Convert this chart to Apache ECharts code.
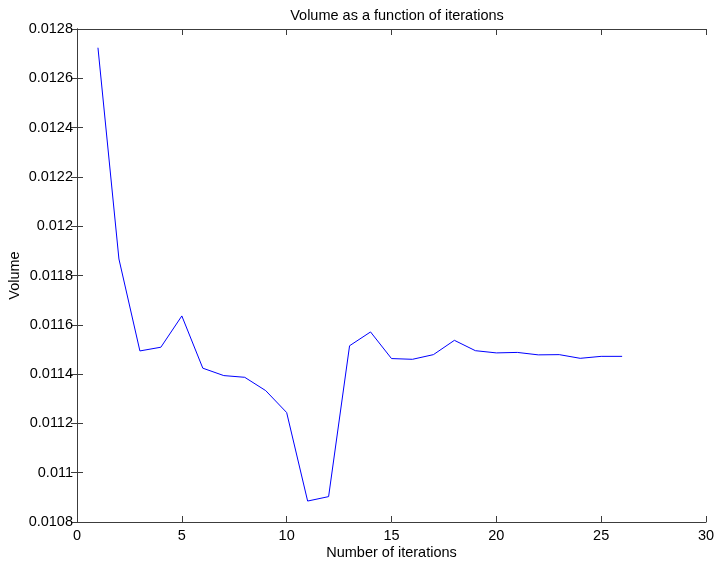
<!DOCTYPE html>
<html>
<head>
<meta charset="utf-8">
<script src="https://cdn.jsdelivr.net/npm/echarts@6/dist/echarts.min.js"></script>
<style>
  html, body { margin: 0; padding: 0; background: #fff; }
  #chart { width: 714px; height: 566px; }
</style>
</head>
<body>
<div id="chart"></div>
<script>
  // iterations and volume
  var iterations = [1, 2, 3, 4, 5, 6, 7, 8, 9, 10, 11, 12, 13, 14, 15, 16, 17, 18, 19, 20, 21, 22, 23, 24, 25, 26]
  var volume = [0.012724, 0.011867, 0.011494, 0.011509, 0.011636, 0.011424, 0.011394, 0.011387, 0.011333, 0.011244,
    0.010885, 0.010903, 0.011515, 0.011571, 0.011463, 0.01146, 0.011479, 0.011537, 0.011495, 0.011486,
    0.011488, 0.011478, 0.011479, 0.011464, 0.011472, 0.011472]

  var points = []
  for (var i = 0; i < iterations.length; i++) {
    points.push([iterations[i], volume[i]])
  }

  var myChart = echarts.init(document.getElementById('chart'));
  var font = 'Liberation Sans, Arial, sans-serif'
  var fs = 14.5
  var axisLine = { show: true, lineStyle: { color: '#3c3c3c', width: 1 } }
  var tick = { show: true, inside: true, length: 6, lineStyle: { color: '#3c3c3c' } }

  var option = {
    animation: false,
    backgroundColor: '#fff',
    title: {
      text: 'Volume as a function of iterations',
      left: 392,
      textAlign: 'center',
      top: 3,
      textStyle: { fontFamily: font, fontSize: fs, fontWeight: 'normal', color: '#000' }
    },
    grid: { left: 77, right: 8, top: 29, bottom: 44, containLabel: false, outerBoundsMode: 'none' },
    xAxis: [{
      type: 'value',
      min: 0, max: 30, interval: 5,
      name: 'Number of iterations',
      nameLocation: 'middle',
      nameGap: 23,
      nameMoveOverlap: false,
      nameTextStyle: { fontFamily: font, fontSize: fs, color: '#000' },
      axisLine: axisLine,
      axisTick: tick,
      splitLine: { show: false },
      axisLabel: { fontFamily: font, fontSize: fs, color: '#000', margin: 6 }
    }, {
      type: 'value',
      position: 'top',
      min: 0, max: 30, interval: 5,
      axisLine: axisLine,
      axisTick: tick,
      splitLine: { show: false },
      axisLabel: { show: false }
    }],
    yAxis: [{
      type: 'value',
      min: 0.0108, max: 0.0128, interval: 0.0002,
      name: 'Volume',
      nameLocation: 'middle',
      nameGap: 55,
      nameMoveOverlap: false,
      nameTextStyle: { fontFamily: font, fontSize: fs, color: '#000' },
      axisLine: axisLine,
      axisTick: tick,
      splitLine: { show: false },
      axisLabel: {
        fontFamily: font, fontSize: fs, color: '#000', margin: 4,
        formatter: function (v) { return String(parseFloat(v.toFixed(4))) }
      }
    }, {
      type: 'value',
      position: 'right',
      min: 0.0108, max: 0.0128, interval: 0.0002,
      axisLine: axisLine,
      axisTick: tick,
      splitLine: { show: false },
      axisLabel: { show: false }
    }],
    series: [{
      type: 'line',
      data: points,
      showSymbol: false,
      symbol: 'none',
      lineStyle: { color: '#0000ff', width: 1 },
      itemStyle: { color: '#0000ff' }
    }]
  };
  myChart.setOption(option);
</script>
</body>
</html>
